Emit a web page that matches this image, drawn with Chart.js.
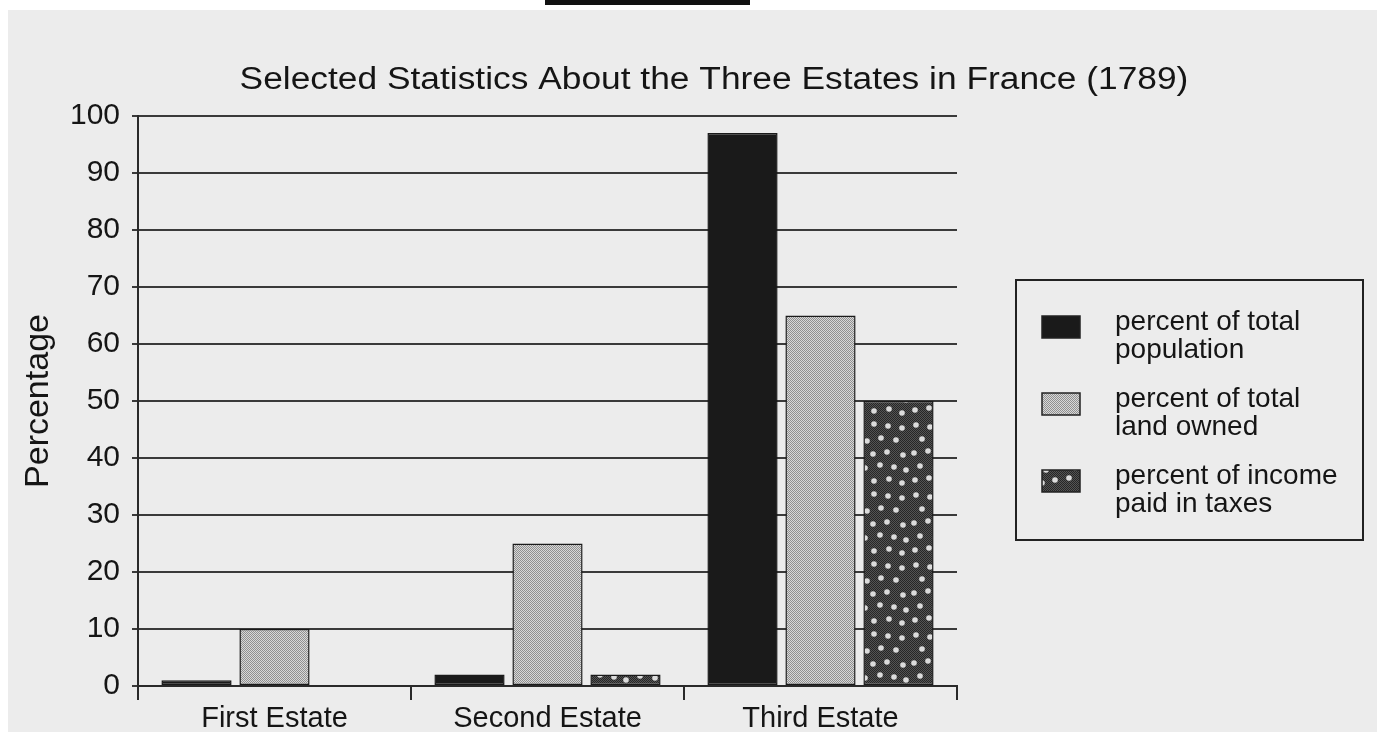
<!DOCTYPE html>
<html>
<head>
<meta charset="utf-8">
<script src="https://cdn.jsdelivr.net/npm/chart.js@4.4.1/dist/chart.umd.min.js"></script>
<style>
  html, body { margin: 0; padding: 0; background: #fff; }
  #wrap { width: 1377px; height: 732px; }
</style>
</head>
<body>
<div id="wrap"><canvas id="estates" width="1377" height="732"></canvas></div>
<script>
const categories = ["First Estate", "Second Estate", "Third Estate"];
const population = [1, 2, 97];
const landOwned = [10, 25, 65];
const taxesPaid = [0, 2, 50];
const seriesNames = [
  ["percent of total", "population"],
  ["percent of total", "land owned"],
  ["percent of income", "paid in taxes"]
];
const chartTitle = "Selected Statistics About the Three Estates in France (1789)";

const FONT = "'Liberation Sans', Arial, Helvetica, sans-serif";
const INK = "#151515";

function makeLandPattern() {
  const c = document.createElement("canvas");
  c.width = 2; c.height = 2;
  const g = c.getContext("2d");
  g.fillStyle = "#d8d8d8"; g.fillRect(0, 0, 2, 2);
  g.fillStyle = "#909090"; g.fillRect(0, 0, 1, 1); g.fillRect(1, 1, 1, 1);
  return g.createPattern(c, "repeat");
}

function makeTaxPattern() {
  const c = document.createElement("canvas");
  c.width = 70; c.height = 70;
  const g = c.getContext("2d");
  g.fillStyle = "#545454"; g.fillRect(0, 0, 70, 70);
  g.fillStyle = "#262626";
  for (let y = 0; y < 70; y++) {
    for (let x = (y % 2); x < 70; x += 2) g.fillRect(x, y, 1, 1);
  }
  // scattered dots
  const dots = [
    [6,5],[20,7],[34,4],[48,6],[62,8],
    [12,19],[27,21],[41,18],[56,20],
    [4,33],[18,31],[33,34],[47,32],[63,35],
    [10,46],[25,48],[40,45],[54,47],[66,50],
    [5,60],[19,58],[34,61],[49,59],[62,63]
  ];
  g.fillStyle = "#dcdcdc";
  dots.forEach(([x, y]) => { g.beginPath(); g.arc(x, y, 2.8, 0, Math.PI * 2); g.fill(); });
  return g.createPattern(c, "repeat");
}

const landPattern = makeLandPattern();
const taxPattern = makeTaxPattern();
const fills = ["#1a1a1a", landPattern, taxPattern];

const pagePlugin = {
  id: "page",
  beforeDraw(chart) {
    const ctx = chart.ctx;
    ctx.save();
    ctx.fillStyle = "#ffffff";
    ctx.fillRect(0, 0, chart.width, chart.height);
    ctx.fillStyle = "#ececec";
    ctx.fillRect(8, 10, chart.width - 8, chart.height - 10);
    ctx.fillStyle = "#111";
    ctx.fillRect(545, 0, 205, 5);
    ctx.restore();
  },
  afterDraw(chart) {
    const ctx = chart.ctx;
    ctx.save();
    // title, stretched a little like the scanned original
    ctx.save();
    ctx.translate(714, 80);
    ctx.scale(1.14, 1);
    ctx.fillStyle = INK;
    ctx.font = `31px ${FONT}`;
    ctx.textAlign = "center";
    ctx.textBaseline = "middle";
    ctx.fillText(chartTitle, 0, 0);
    ctx.restore();

    // legend box
    ctx.strokeStyle = "#222";
    ctx.lineWidth = 2;
    ctx.strokeRect(1016, 280, 347, 260);
    ctx.font = `28px ${FONT}`;
    ctx.textAlign = "left";
    ctx.textBaseline = "middle";
    chart.data.datasets.forEach((ds, i) => {
      const y0 = 322 + i * 77;
      ctx.fillStyle = ds.backgroundColor;
      ctx.fillRect(1042, y0 - 6, 38, 22);
      ctx.strokeStyle = "#222";
      ctx.lineWidth = 1.5;
      ctx.strokeRect(1042, y0 - 6, 38, 22);
      ctx.fillStyle = INK;
      seriesNames[i].forEach((line, k) => ctx.fillText(line, 1115, y0 + k * 28));
    });
    ctx.restore();
  }
};

const barStyle = {
  borderColor: "#1a1a1a",
  borderWidth: c => (c.raw ? 1.5 : 0),
  borderSkipped: false,
  categoryPercentage: 0.857,
  barPercentage: 0.9
};

new Chart(document.getElementById("estates"), {
  type: "bar",
  data: {
    labels: categories,
    datasets: [population, landOwned, taxesPaid].map((d, i) => ({
      label: seriesNames[i].join(" "),
      data: d,
      backgroundColor: fills[i],
      ...barStyle
    }))
  },
  options: {
    responsive: false,
    animation: false,
    layout: { padding: { left: 14, top: 116, right: 420, bottom: 0 } },
    plugins: {
      legend: { display: false },
      title: { display: false },
      tooltip: { enabled: false }
    },
    scales: {
      x: {
        afterFit: s => { s.height = 46; },
        grid: {
          offset: true,
          drawOnChartArea: false,
          drawTicks: true,
          tickLength: 14,
          color: "#2a2a2a",
          lineWidth: 2
        },
        border: { display: true, color: "#2a2a2a", width: 2 },
        ticks: { color: INK, font: { family: FONT, size: 29 }, padding: 2 }
      },
      y: {
        min: 0,
        max: 100,
        afterFit: s => { s.width = 124; },
        ticks: {
          stepSize: 10,
          color: INK,
          padding: 12,
          font: { family: FONT, size: 30 }
        },
        grid: { color: "#3a3a3a", lineWidth: 2, tickLength: 6 },
        border: { display: true, color: "#2a2a2a", width: 2 },
        title: {
          display: true,
          text: "Percentage",
          color: INK,
          font: { family: FONT, size: 34 },
          padding: { top: 4, bottom: 0 }
        }
      }
    }
  },
  plugins: [pagePlugin]
});
</script>
</body>
</html>
